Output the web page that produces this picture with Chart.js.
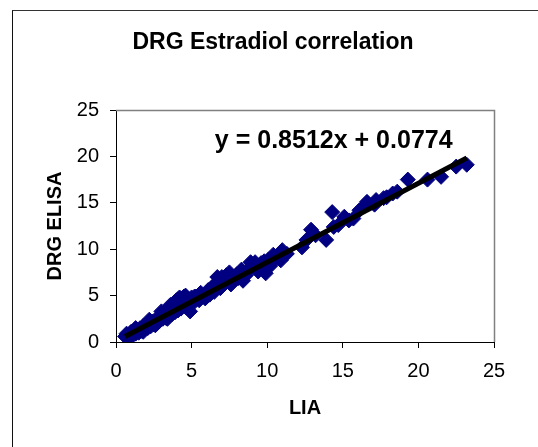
<!DOCTYPE html>
<html>
<head>
<meta charset="utf-8">
<script src="https://cdn.jsdelivr.net/npm/chart.js@4"></script>
<style>
  html, body { margin: 0; padding: 0; background: #fff; }
  #wrap { position: relative; width: 538px; height: 447px; overflow: hidden; }
  #frame { position: absolute; left: 12px; top: 10px; width: 600px; height: 500px;
           border-left: 1px solid #111; border-top: 1px solid #333; }
  canvas { position: absolute; left: 0; top: 0; }
</style>
</head>
<body>
<div id="wrap">
  <div id="frame"></div>
  <canvas id="chart" width="538" height="447"></canvas>
</div>
<script>
// LIA vs DRG ELISA values
const liaValues = [
  0.6, 0.7, 0.8, 0.9, 1.0, 1.1, 1.2, 1.3, 1.3, 1.4, 1.5, 1.6, 1.7, 1.8, 1.8, 1.9,
  2.0, 2.1, 2.2, 2.2, 2.3, 2.4, 2.5, 2.6, 2.6, 2.7, 2.8, 2.9, 3.0, 3.0, 3.1, 3.2,
  3.3, 3.4, 3.4, 3.5, 3.6, 3.6, 3.7, 3.8, 3.9, 3.9, 4.0, 4.1, 4.1, 4.2, 4.3, 4.3,
  4.4, 4.5, 4.6, 4.6, 4.7, 4.8, 4.9, 5.0, 5.1, 5.2, 5.3, 5.5, 5.6, 5.7, 5.9, 6.0,
  6.1, 6.2, 6.3, 6.4, 6.5, 6.6, 6.7, 6.9, 7.0, 7.1, 7.3, 7.4, 7.5, 7.6, 7.8, 8.0,
  8.1, 8.3, 8.4, 8.6, 8.8, 8.9, 9.0, 9.2, 9.3, 9.4, 9.6, 9.8, 9.9, 10.1, 10.2, 10.4,
  10.6, 10.9, 11.0, 11.3,
  12.3, 12.6, 12.9, 13.2, 13.9, 14.3, 14.4, 14.7, 15.1, 15.4, 15.7, 16.1, 16.4, 16.6,
  17.1, 17.2, 17.7, 17.9, 18.3, 18.6, 19.3, 20.6, 21.5, 22.5, 23.2
];
const elisaValues = [
  0.6, 0.9, 0.5, 0.8, 1.1, 0.7, 1.2, 0.9, 1.5, 1.3, 1.0, 1.5, 1.2, 1.7, 1.1, 1.4,
  1.9, 1.5, 2.0, 2.4, 1.7, 2.2, 1.9, 2.4, 1.8, 2.0, 2.6, 2.3, 2.9, 3.3, 2.5, 3.2,
  2.6, 3.3, 2.5, 3.0, 3.7, 4.0, 3.0, 4.0, 3.2, 4.3, 4.5, 3.4, 4.6, 4.8, 3.6, 4.7,
  4.2, 4.9, 3.8, 5.0, 4.5, 4.4, 3.3, 4.8, 4.2, 4.9, 4.9, 4.5, 5.3, 5.0, 4.7, 5.0,
  5.6, 5.1, 5.8, 6.0, 5.4, 6.2, 7.0, 5.8, 7.0, 6.4, 7.2, 6.8, 7.5, 6.2, 6.8, 7.3,
  6.9, 7.8, 6.6, 7.2, 7.8, 8.6, 8.2, 8.6, 8.0, 7.6, 8.5, 8.7, 7.4, 8.9, 8.2, 9.4,
  9.1, 8.8, 9.9, 9.5,
  10.2, 11.0, 12.1, 11.5, 11.0, 14.0, 12.4, 12.6, 13.5, 13.1, 13.3, 14.2, 14.6, 15.1,
  14.8, 15.3, 15.5, 15.6, 16.0, 16.2, 17.5, 17.5, 17.8, 18.9, 19.1
];
const axisTicks = [0, 5, 10, 15, 20, 25];
const trendSlope = 0.8512;
const trendIntercept = 0.0774;
const trendLabel = 'y = 0.8512x + 0.0774';

const points = liaValues.map((x, i) => ({ x: x, y: elisaValues[i] }));
const xMin = Math.min(...liaValues);
const xMax = Math.max(...liaValues);
const trendPoints = [xMin, xMax].map(x => ({ x: x, y: trendSlope * x + trendIntercept }));

const FONT = "'Liberation Sans', Arial, sans-serif";

const plotFrame = {
  id: 'plotFrame',
  beforeDatasetsDraw(chart) {
    const { ctx, chartArea: { top, right, bottom, left } } = chart;
    ctx.save();
    ctx.strokeStyle = '#808080';
    ctx.lineWidth = 1.5;
    ctx.beginPath();
    ctx.moveTo(left, top + 0.5);
    ctx.lineTo(right + 0.5, top + 0.5);
    ctx.lineTo(right + 0.5, bottom);
    ctx.stroke();
    ctx.restore();
  }
};

const equationText = {
  id: 'equationText',
  afterDatasetsDraw(chart) {
    const { ctx, scales: { x, y } } = chart;
    ctx.save();
    ctx.font = 'bold 25px ' + FONT;
    ctx.fillStyle = '#000';
    ctx.textAlign = 'center';
    ctx.textBaseline = 'middle';
    ctx.fillText(trendLabel, x.getPixelForValue(14.4), y.getPixelForValue(21.7));
    ctx.restore();
  }
};

new Chart(document.getElementById('chart').getContext('2d'), {
  type: 'scatter',
  data: {
    datasets: [
      {
        label: 'DRG ELISA',
        data: points,
        pointStyle: 'rectRot',
        pointRadius: 7.5,
        pointBorderWidth: 1,
        backgroundColor: '#000080',
        borderColor: '#000080',
        order: 2
      },
      {
        label: 'Linear',
        type: 'line',
        data: trendPoints,
        borderColor: '#000',
        borderWidth: 5,
        pointRadius: 0,
        fill: false,
        order: 1
      }
    ]
  },
  options: {
    responsive: false,
    animation: false,
    layout: { padding: { left: 41, right: 33, top: 0, bottom: 25 } },
    plugins: {
      legend: { display: false },
      tooltip: { enabled: false },
      title: {
        display: true,
        text: 'DRG Estradiol correlation',
        color: '#000',
        font: { family: FONT, size: 23, weight: 'bold' },
        padding: { top: 29, bottom: 53.4 }
      }
    },
    scales: {
      x: {
        type: 'linear',
        min: 0,
        max: 25,
        afterBuildTicks: s => { s.ticks = axisTicks.map(v => ({ value: v })); },
        afterFit: s => { s.height = 80; },
        grid: { display: true, drawOnChartArea: false, drawTicks: true, tickLength: 6, color: '#000' },
        border: { display: true, color: '#000', width: 1 },
        ticks: { color: '#000', padding: 11, font: { family: FONT, size: 20 } },
        title: { display: true, text: 'LIA', color: '#000', font: { family: FONT, size: 20, weight: 'bold' }, padding: { top: 0, bottom: 2 } }
      },
      y: {
        type: 'linear',
        min: 0,
        max: 25,
        afterBuildTicks: s => { s.ticks = axisTicks.map(v => ({ value: v })); },
        afterFit: s => { s.width = 75; },
        grid: { display: true, drawOnChartArea: false, drawTicks: true, tickLength: 6, color: '#000' },
        border: { display: true, color: '#000', width: 1 },
        ticks: { color: '#000', padding: 11, font: { family: FONT, size: 20 } },
        title: { display: true, text: 'DRG ELISA', color: '#000', font: { family: FONT, size: 20, weight: 'bold' }, padding: { top: 2, bottom: 0 } }
      },
      yRight: {
        type: 'linear',
        position: 'right',
        min: 0,
        max: 25,
        afterFit: s => { s.width = 11; },
        grid: { display: false },
        border: { display: false },
        ticks: { display: false }
      }
    }
  },
  plugins: [plotFrame, equationText]
});
</script>
</body>
</html>
